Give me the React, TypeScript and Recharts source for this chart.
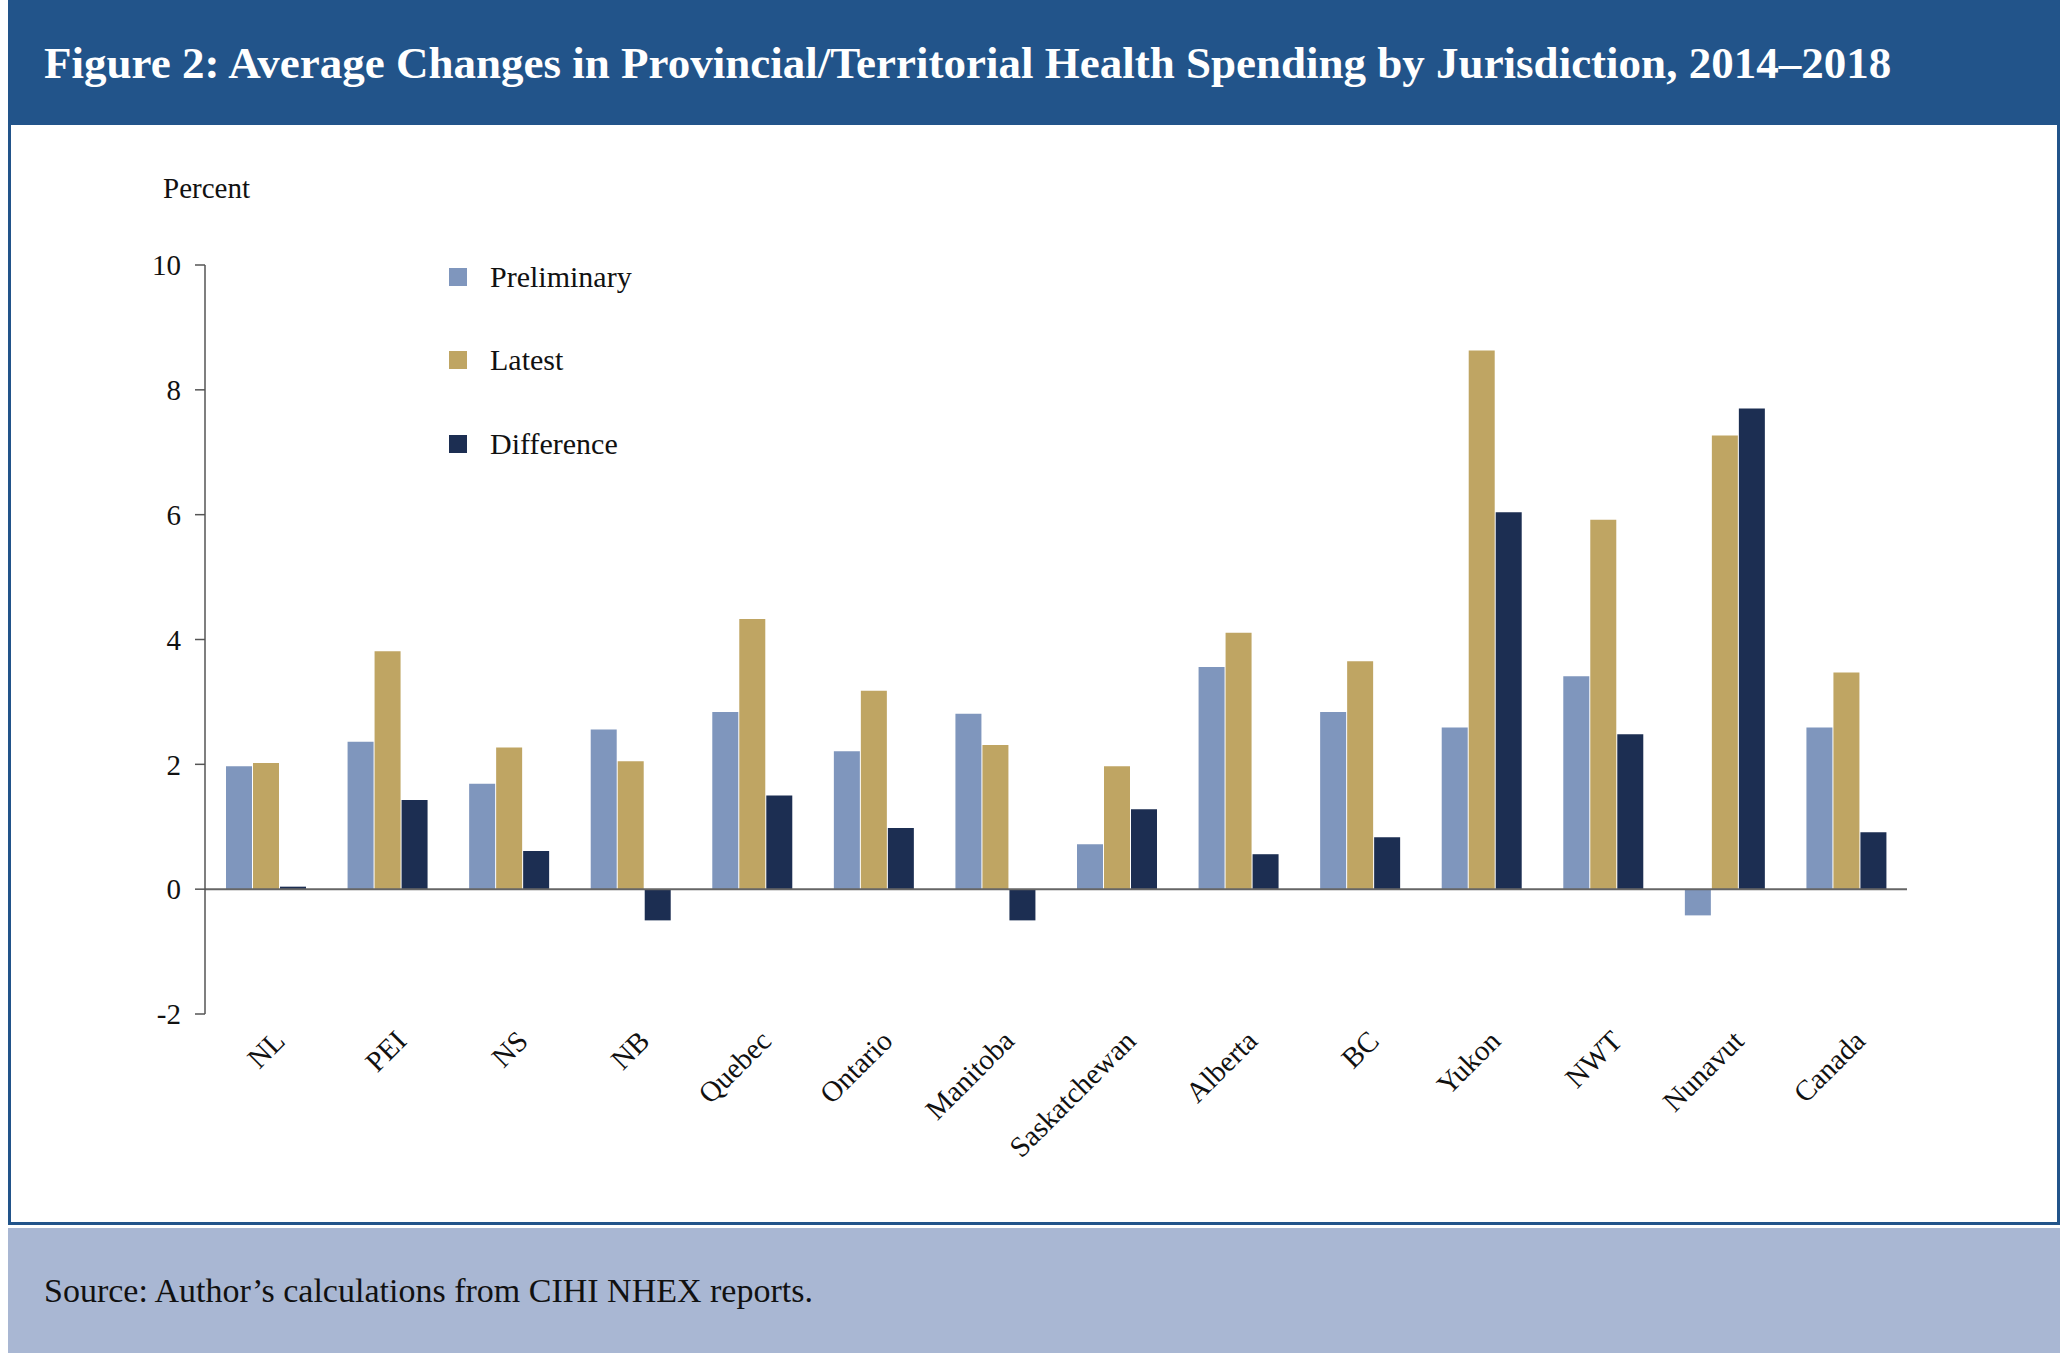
import React from "react";
import { BarChart, Bar, XAxis, YAxis, ReferenceLine } from "recharts";

const categories = ["NL", "PEI", "NS", "NB", "Quebec", "Ontario", "Manitoba", "Saskatchewan", "Alberta", "BC", "Yukon", "NWT", "Nunavut", "Canada"];
const preliminary = [1.97, 2.36, 1.69, 2.56, 2.84, 2.21, 2.81, 0.72, 3.56, 2.84, 2.59, 3.41, -0.42, 2.59];
const latest = [2.02, 3.81, 2.27, 2.05, 4.33, 3.18, 2.31, 1.97, 4.11, 3.65, 8.63, 5.92, 7.27, 3.47];
const difference = [0.04, 1.43, 0.61, -0.5, 1.5, 0.98, -0.5, 1.28, 0.56, 0.83, 6.04, 2.48, 7.7, 0.91];
const yTicks = [-2, 0, 2, 4, 6, 8, 10];

const data = categories.map((c, i) => ({ name: c, preliminary: preliminary[i], latest: latest[i], difference: difference[i] }));

const FONT = "'Liberation Serif', 'DejaVu Serif', serif";
const C_PRE = "#7f96bd";
const C_LAT = "#bfa563";
const C_DIF = "#1c2e52";
const BLUE = "#22548a";

const XTick = (props: any) => {
  const { x, y, payload } = props;
  return (
    <g transform={`translate(${x + 8},${y + 8})`}>
      <text transform="rotate(-45)" textAnchor="end" dy={18} fontFamily={FONT} fontSize={29} fill="#111">
        {payload.value}
      </text>
    </g>
  );
};

const legendItems = [
  { label: "Preliminary", color: C_PRE, y: 277 },
  { label: "Latest", color: C_LAT, y: 360 },
  { label: "Difference", color: C_DIF, y: 444 },
];

export default function App() {
  return (
    <div style={{ position: "fixed", left: 0, top: 0, width: 2070, height: 1364, background: "#fff", fontFamily: FONT }}>
      <div style={{ position: "absolute", left: 8, top: 0, width: 2052, height: 125, background: BLUE }} />
      <div style={{ position: "absolute", left: 44, top: 0, height: 125, display: "flex", alignItems: "center", color: "#fff", fontSize: 45, fontWeight: 700, whiteSpace: "nowrap" }}>
        Figure 2: Average Changes in Provincial/Territorial Health Spending by Jurisdiction, 2014–2018
      </div>
      <div style={{ position: "absolute", left: 8, top: 125, width: 2052, height: 1100, boxSizing: "border-box", border: `3px solid ${BLUE}`, borderTop: "none" }} />
      <div style={{ position: "absolute", left: 8, top: 1228, width: 2052, height: 125, background: "#a9b7d3" }} />
      <div style={{ position: "absolute", left: 44, top: 1228, height: 125, display: "flex", alignItems: "center", color: "#111", fontSize: 34, whiteSpace: "nowrap" }}>
        Source: Author’s calculations from CIHI NHEX reports.
      </div>
      <div style={{ position: "absolute", left: 163, top: 172, fontSize: 29, color: "#111" }}>Percent</div>
      {legendItems.map((it) => (
        <div key={it.label} style={{ position: "absolute", left: 449, top: it.y - 20, height: 40, display: "flex", alignItems: "center", fontSize: 30, color: "#111" }}>
          <span style={{ display: "inline-block", width: 18, height: 18, background: it.color, marginRight: 23 }} />
          {it.label}
        </div>
      ))}
      <div style={{ position: "absolute", left: 0, top: 0 }}>
        <BarChart width={2070} height={1364} data={data} margin={{ top: 265, right: 163, bottom: 200, left: 135 }} barGap={1} barCategoryGap="17%">
          <YAxis domain={[-2, 10]} ticks={yTicks} width={70} tickSize={10} tickMargin={14} axisLine={{ stroke: "#555", strokeWidth: 1.5 }} tickLine={{ stroke: "#555", strokeWidth: 1.5 }} tick={{ fontFamily: FONT, fontSize: 29, fill: "#111" }} interval={0} />
          <XAxis dataKey="name" height={150} axisLine={false} tickLine={false} tick={<XTick />} interval={0} />
          <Bar dataKey="preliminary" fill={C_PRE} barSize={26} isAnimationActive={false} />
          <Bar dataKey="latest" fill={C_LAT} barSize={26} isAnimationActive={false} />
          <Bar dataKey="difference" fill={C_DIF} barSize={26} isAnimationActive={false} />
          <ReferenceLine y={0} stroke="#666" strokeWidth={2} />
        </BarChart>
      </div>
    </div>
  );
}
